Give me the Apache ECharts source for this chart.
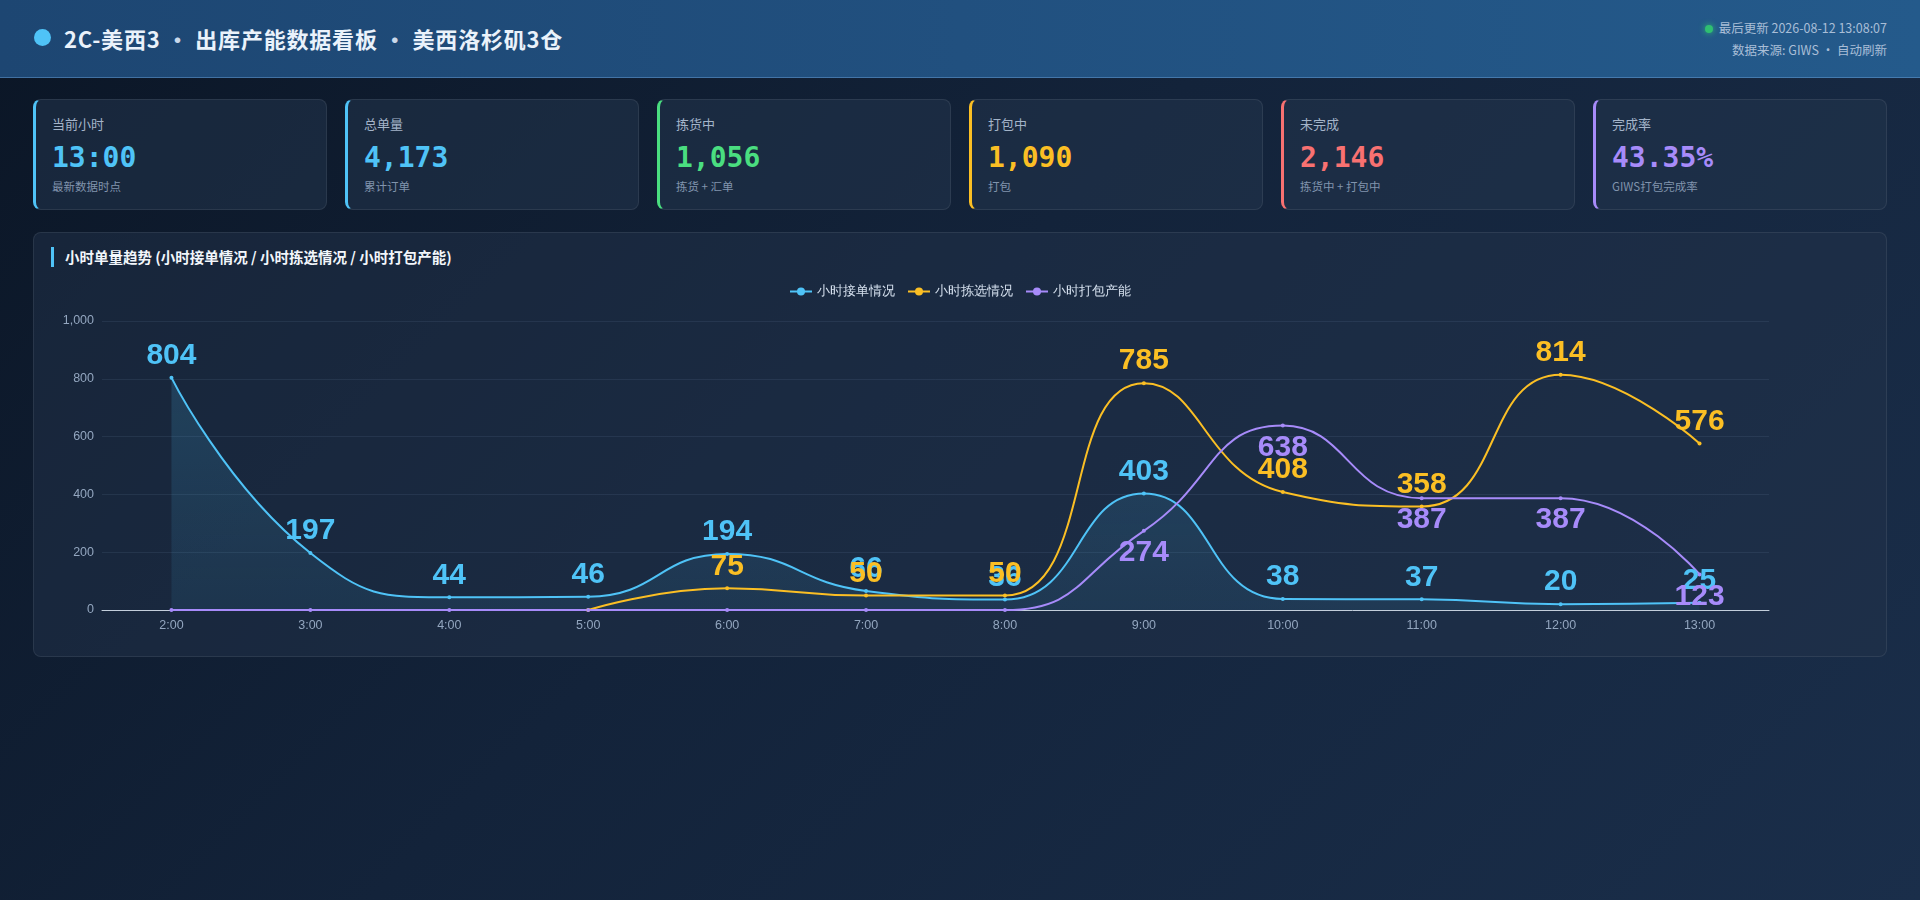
<!DOCTYPE html>
<html lang="zh-CN">

<head>
    <meta charset="UTF-8">
    <meta name="viewport" content="width=device-width, initial-scale=1.0">
    <title>2C-美西3 · 出库产能数据看板</title>
    <script src="https://cdn.jsdelivr.net/npm/echarts@6/dist/echarts.min.js"></script>
    <style>
        * { margin: 0; padding: 0; box-sizing: border-box; }
        html, body { width: 1920px; height: 900px; overflow: hidden; }
        body {
            font-family: "Noto Sans CJK SC", "Noto Sans", sans-serif;
            background: linear-gradient(135deg, #0b1626 0%, #13233a 45%, #1a2e4a 100%);
            color: #e6eef8;
        }
        .header {
            height: 78px;
            padding: 0 33px 0 34px;
            display: flex;
            align-items: center;
            justify-content: space-between;
            background: linear-gradient(90deg, #1d4672 0%, #21507f 50%, #245a8b 100%);
            border-bottom: 1px solid rgba(110, 165, 220, 0.45);
        }
        .title { display: flex; align-items: center; font-size: 22px; font-weight: bold; letter-spacing: 0.8px; color: #eaf2fb; margin-top: -2px; }
        .title .dot { width: 17px; height: 17px; border-radius: 50%; background: #4fc3f7; margin-right: 13px; }
        .title .sep { margin: 0 6px; color: #c9d8ea; }
        .meta { text-align: right; font-size: 12.5px; color: #a9bed7; line-height: 22px; }
        .meta .live { display: inline-block; width: 8px; height: 8px; border-radius: 50%; background: #2fbf71; box-shadow: 0 0 6px #2fbf71; margin-right: 6px; vertical-align: 0; }
        .cards { display: flex; gap: 18px; padding: 0 33px 0 33px; margin-top: 21px; }
        .card {
            flex: 1;
            height: 111px;
            background: rgba(35, 52, 76, 0.55);
            border: 1px solid rgba(255, 255, 255, 0.08);
            border-left: 3px solid #4fc3f7;
            border-radius: 8px;
            padding: 15px 16px;
        }
        .card .name { font-size: 13px; color: #a4b4c9; line-height: 18px; }
        .card .val { font-family: "DejaVu Sans Mono", monospace; font-weight: 800; font-size: 28px; line-height: 36px; margin-top: 7px; }
        .card .sub { font-size: 11.5px; color: #8194ad; line-height: 16px; margin-top: 2px; }
        .panel {
            margin: 22px 33px 0 33px;
            height: 425px;
            background: rgba(33, 50, 74, 0.5);
            border: 1px solid rgba(255, 255, 255, 0.08);
            border-radius: 8px;
            padding: 14px 20px 18px 20px;
        }
        .panel-title { font-size: 14.5px; font-weight: bold; color: #f2f6fb; line-height: 20px; border-left: 3px solid #4fc3f7; padding-left: 11px; margin-left: -3px; }
        #trend { width: 1812px; height: 361px; margin-top: 7px; }
    </style>
</head>

<body>
    <div class="header">
        <div class="title"><span class="dot"></span>2C-美西3<span class="sep">·</span>出库产能数据看板<span class="sep">·</span>美西洛杉矶3仓</div>
        <div class="meta">
            <div><span class="live"></span>最后更新 2026-08-12 13:08:07</div>
            <div>数据来源: GIWS · 自动刷新</div>
        </div>
    </div>

    <div class="cards" id="cards"></div>

    <div class="panel">
        <div class="panel-title">小时单量趋势 (小时接单情况 / 小时拣选情况 / 小时打包产能)</div>
        <div id="trend"></div>
    </div>

    <script type="text/javascript">
        // 小时数据
        var hours = ['2:00', '3:00', '4:00', '5:00', '6:00', '7:00', '8:00', '9:00', '10:00', '11:00', '12:00', '13:00'];
        var orderIn = [804, 197, 44, 46, 194, 66, 36, 403, 38, 37, 20, 25];
        var picked = [null, null, null, 0, 75, 50, 50, 785, 408, 358, 814, 576];
        var packed = [0, 0, 0, 0, 0, 0, 0, 274, 638, 387, 387, 123];
        var seriesNames = ['小时接单情况', '小时拣选情况', '小时打包产能'];

        // 顶部指标卡
        var cardNames = ['当前小时', '总单量', '拣货中', '打包中', '未完成', '完成率'];
        var cardValues = ['13:00', '4,173', '1,056', '1,090', '2,146', '43.35%'];
        var cardSubs = ['最新数据时点', '累计订单', '拣货 + 汇单', '打包', '拣货中 + 打包中', 'GIWS打包完成率'];
        var cardColors = ['#4fc3f7', '#4fc3f7', '#4ade80', '#fbbf24', '#f87171', '#a78bfa'];

        var html = '';
        for (var i = 0; i < cardNames.length; i++) {
            html += '<div class="card" style="border-left-color:' + cardColors[i] + '">' +
                '<div class="name">' + cardNames[i] + '</div>' +
                '<div class="val" style="color:' + cardColors[i] + '">' + cardValues[i] + '</div>' +
                '<div class="sub">' + cardSubs[i] + '</div></div>';
        }
        document.getElementById('cards').innerHTML = html;

        var colors = ['#4fc3f7', '#fbbf24', '#a78bfa'];

        function labelOf(color, pos) {
            return {
                show: true,
                position: pos,
                color: color,
                fontSize: 30,
                fontWeight: 'bold',
                fontFamily: 'Liberation Sans, Arial, sans-serif',
                formatter: function (p) { return p.value ? p.value : ''; }
            };
        }

        var myChart = echarts.init(document.getElementById('trend'));
        var option = {
            color: colors,
            legend: {
                top: 6,
                left: 'center',
                itemWidth: 22,
                itemHeight: 10,
                itemGap: 12,
                textStyle: { color: '#d5e0ee', fontSize: 12.5 },
                data: seriesNames
            },
            grid: { left: 48, right: 97, top: 47, bottom: 25 },
            xAxis: {
                type: 'category',
                data: hours,
                axisLine: { lineStyle: { color: '#c3cedb' } },
                axisTick: { lineStyle: { color: '#c3cedb' } },
                axisLabel: { color: '#93a6bf', fontSize: 12.5, margin: 9 }
            },
            yAxis: {
                type: 'value',
                min: 0,
                max: 1000,
                interval: 200,
                axisLine: { show: false },
                axisTick: { show: false },
                axisLabel: { color: '#93a6bf', fontSize: 12.5, margin: 8 },
                splitLine: { lineStyle: { color: 'rgba(150, 180, 215, 0.1)' } }
            },
            series: [
                {
                    name: seriesNames[0],
                    type: 'line',
                    smooth: true,
                    symbol: 'circle',
                    symbolSize: 4,
                    lineStyle: { width: 2 },
                    label: labelOf(colors[0], 'top'),
                    areaStyle: {
                        color: new echarts.graphic.LinearGradient(0, 0, 0, 1, [
                            { offset: 0, color: 'rgba(79, 195, 247, 0.24)' },
                            { offset: 1, color: 'rgba(79, 195, 247, 0.12)' }
                        ])
                    },
                    data: orderIn
                },
                {
                    name: seriesNames[1],
                    type: 'line',
                    smooth: true,
                    symbol: 'circle',
                    symbolSize: 4,
                    lineStyle: { width: 2 },
                    label: labelOf(colors[1], 'top'),
                    data: picked
                },
                {
                    name: seriesNames[2],
                    type: 'line',
                    smooth: true,
                    symbol: 'circle',
                    symbolSize: 4,
                    lineStyle: { width: 2 },
                    label: labelOf(colors[2], 'bottom'),
                    data: packed
                }
            ]
        };
        myChart.setOption(option);
    </script>
</body>

</html>
